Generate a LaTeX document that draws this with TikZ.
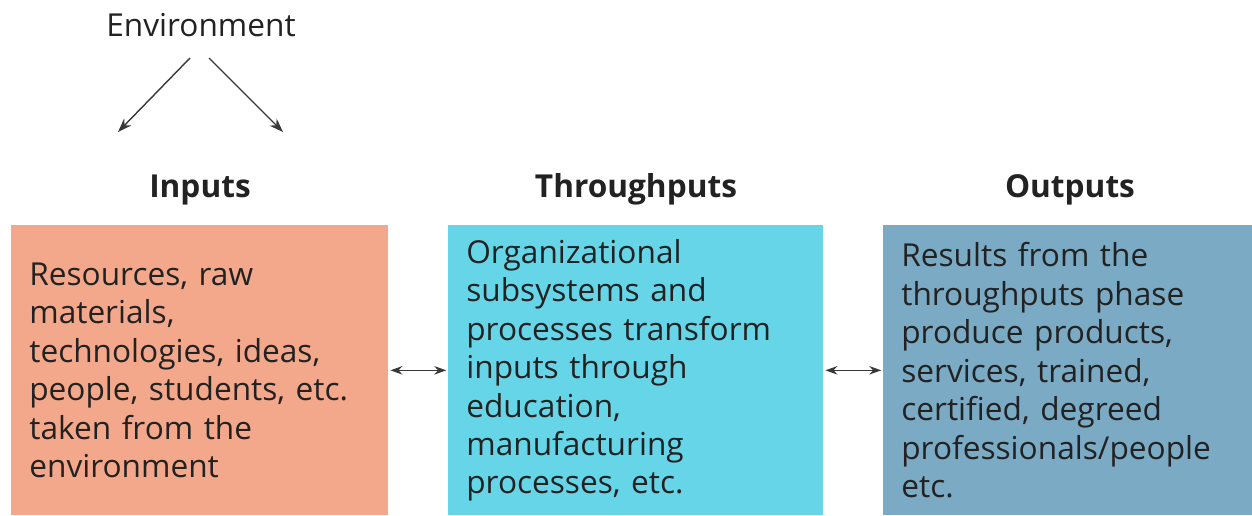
\documentclass[tikz,border=0pt]{standalone}
\usepackage{fontspec}
\setmainfont{Open Sans}
\usetikzlibrary{arrows.meta}
\definecolor{inpcol}{HTML}{F4A88B}
\definecolor{thrcol}{HTML}{67D5E8}
\definecolor{outcol}{HTML}{7BAAC5}
\definecolor{inkcol}{HTML}{222222}

\begin{document}
\begin{tikzpicture}[x=0.02cm,y=-0.02cm,every node/.style={text=inkcol},
  box/.style={anchor=north west,minimum height=5.8cm,inner xsep=0.36cm,align=left,font=\fontsize{18}{21.9}\selectfont},
  head/.style={anchor=base,font=\fontsize{18}{22}\selectfont\bfseries},
  link/.style={draw=inkcol!90,line width=0.8pt,-{Stealth[length=0.28cm,width=0.2cm]}},
  twoway/.style={draw=inkcol!90,line width=0.8pt,{Stealth[length=0.24cm,width=0.17cm]}-{Stealth[length=0.24cm,width=0.17cm]},shorten <=1pt,shorten >=1pt}]
  \useasboundingbox (0,0) rectangle (1252,515);
  % environment and its two arrows
  \path (201,36) node[anchor=base,font=\fontsize{18}{22}\selectfont] (env) {Environment};
  \coordinate (envl) at (190,58); \coordinate (envr) at (209,58);
  \coordinate (inl) at (118,132); \coordinate (inr) at (283,132);
  \draw[link] (envl) -- (inl);
  \draw[link] (envr) -- (inr);
  % headings
  \path (200,197) node[head] (hinp) {Inputs} (636,197) node[head] (hthr) {Throughputs}
  (1070,197) node[head] (hout) {Outputs};
  % the three boxes
  \path (11,225) node[box,fill=inpcol,text width=6.82cm] (inp)
    {Resources, raw\\ materials,\\ technologies, ideas,\\ people, students, etc.\\ taken from the\\ environment};
  \path (448,225) node[box,fill=thrcol,text width=6.78cm] (thr)
    {Organizational\\ subsystems and\\ processes transform\\ inputs through\\ education,\\ manufacturing\\ processes, etc.};
  \path (883,225) node[box,fill=outcol,text width=6.66cm] (out)
    {Results from the\\ throughputs phase\\ produce products,\\ services, trained,\\ certified, degreed\\ professionals/people\\ etc.};
  \draw[twoway] (inp) -- (thr);
  \draw[twoway] (thr) -- (out);
\end{tikzpicture}
\end{document}
